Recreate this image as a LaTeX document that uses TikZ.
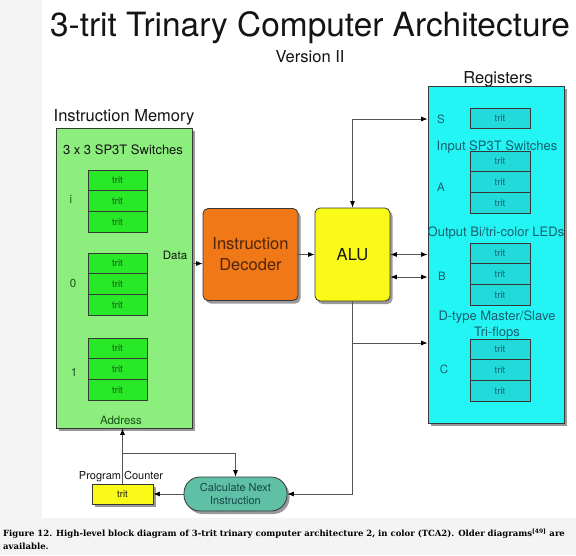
\documentclass[tikz,border=0pt]{standalone}
\usepackage{fontspec}
\setmainfont{TeX Gyre Heros}
\newfontfamily\capfont{DejaVu Serif}
\usetikzlibrary{arrows.meta,shadows}
\definecolor{bggray}{RGB}{244,244,244}
\definecolor{imgreen}{RGB}{140,238,125}
\definecolor{tritgreen}{RGB}{40,232,40}
\definecolor{darkgreen}{RGB}{25,85,25}
\definecolor{decorange}{RGB}{240,120,22}
\definecolor{decbrown}{RGB}{80,38,10}
\definecolor{aluyellow}{RGB}{250,250,25}
\definecolor{regcyan}{RGB}{35,245,245}
\definecolor{tritcyan}{RGB}{35,218,218}
\definecolor{tealtext}{RGB}{25,95,110}
\definecolor{cnifill}{RGB}{95,192,165}
\definecolor{cnitext}{RGB}{20,70,72}
\definecolor{linec}{RGB}{55,55,55}
\definecolor{arrowc}{RGB}{85,85,85}
\definecolor{titlec}{RGB}{20,20,20}
\newcommand\fsz[1]{\fontsize{#1}{#1}\selectfont}
\tikzset{
  box/.style={draw=linec, line width=0.8pt, inner sep=0pt},
  shadowed/.style={drop shadow={shadow xshift=2.5pt, shadow yshift=-3pt, opacity=0.4, fill=black}},
  tritg/.style={box, fill=tritgreen, minimum width=59pt, minimum height=20.67pt, font=\fsz{9.5}, text=darkgreen},
  tritc/.style={box, fill=tritcyan, minimum width=60pt, minimum height=20.67pt, font=\fsz{9.5}, text=tealtext},
  lbl/.style={inner sep=0pt, font=\fsz{16.5}, text=titlec},
  imtext/.style={inner sep=0pt, font=\fsz{11.5}, text=darkgreen},
  regtext/.style={inner sep=0pt, font=\fsz{13}, text=tealtext},
  reglbl/.style={inner sep=0pt, font=\fsz{11.5}, text=tealtext},
  tip/.style={Latex[length=6.5pt,width=5pt,color=black]},
  arr/.style={draw=arrowc, line width=0.8pt, -{Latex[length=6.5pt,width=5pt,color=black]}},
  arrtwo/.style={draw=arrowc, line width=0.8pt, {Latex[length=6.5pt,width=5pt,color=black]}-{Latex[length=6.5pt,width=5pt,color=black]}}
}
\begin{document}
\begin{tikzpicture}[x=1pt,y=-1pt]
\useasboundingbox (0,0) rectangle (576,555);
\fill[bggray] (0,0) rectangle (576,555);
\fill[white] (42,0) rectangle (576,518);

% titles
\node[inner sep=0pt, font=\fsz{33.4}, text=titlec, anchor=base] (title) at (310,36) {3-trit Trinary Computer Architecture};
\node[lbl, anchor=base] (version) at (310,62) {Version II};
\node[lbl, anchor=base] (regtitle) at (498,83) {Registers};
\node[lbl, anchor=base] (imtitle) at (124,121) {Instruction Memory};

% instruction memory
\node[box, shadowed, fill=imgreen, minimum width=136pt, minimum height=300pt] (im) at (124,278) {};
\node[inner sep=0pt, font=\fsz{13}, text=titlec] (sw) at (123,150) {3 x 3 SP3T Switches};
\node[tritg] (i1) at (117.5,180.3) {trit};
\node[tritg] (i2) at (117.5,201) {trit};
\node[tritg] (i3) at (117.5,221.7) {trit};
\node[tritg] (z1) at (117.5,263.3) {trit};
\node[tritg] (z2) at (117.5,284) {trit};
\node[tritg] (z3) at (117.5,304.7) {trit};
\node[tritg] (o1) at (117.5,348.3) {trit};
\node[tritg] (o2) at (117.5,369) {trit};
\node[tritg] (o3) at (117.5,389.7) {trit};
\node[imtext] (li) at (71,199) {i};
\node[imtext] (lz) at (73,284) {0};
\node[imtext] (lo) at (74,372) {1};
\node[imtext, text=titlec] (data) at (175,255) {Data};
\node[imtext] (addr) at (121,420) {Address};

% decoder and ALU
\node[box, shadowed, fill=decorange, rounded corners=5pt, minimum width=95pt, minimum height=92pt,
      align=center, font=\fontsize{16.5}{21}\selectfont, text=decbrown] (dec) at (250.5,254.5) {Instruction\\Decoder};
\node[box, shadowed, fill=aluyellow, rounded corners=5pt, minimum width=75pt, minimum height=93pt,
      font=\fsz{16.5}, text=titlec] (alu) at (352.5,254.5) {ALU};

% registers
\node[box, shadowed, fill=regcyan, minimum width=136pt, minimum height=337pt] (reg) at (496,254.5) {};
\node[tritc] (s1) at (500,118.5) {trit};
\node[tritc] (a1) at (500,161.3) {trit};
\node[tritc] (a2) at (500,182) {trit};
\node[tritc] (a3) at (500,202.7) {trit};
\node[tritc] (b1) at (500,253.3) {trit};
\node[tritc] (b2) at (500,274) {trit};
\node[tritc] (b3) at (500,294.7) {trit};
\node[tritc] (c1) at (500,349.3) {trit};
\node[tritc] (c2) at (500,370) {trit};
\node[tritc] (c3) at (500,390.7) {trit};
\node[reglbl] (ls) at (441,119) {S};
\node[reglbl] (la) at (441,187) {A};
\node[reglbl] (lb) at (442,276) {B};
\node[reglbl] (lc) at (444,369) {C};
\node[regtext] (inp) at (497,147) {Input SP3T Switches};
\node[regtext] (outp) at (496,233) {Output Bi/tri-color LEDs};
\node[regtext, align=center, font=\fontsize{13}{16}\selectfont] (dff) at (497,325) {D-type Master/Slave\\Tri-flops};

% program counter and next instruction
\node[inner sep=0pt, font=\fsz{11}, text=titlec] (pclbl) at (121,477) {Program Counter};
\node[box, shadowed, fill=aluyellow, minimum width=61pt, minimum height=20pt, font=\fsz{9.5}, text=titlec] (pc) at (122.5,494) {trit};
\node[box, shadowed, fill=cnifill, rounded corners=16pt, minimum width=103pt, minimum height=34pt,
      align=center, font=\fontsize{11}{13}\selectfont, text=cnitext] (cni) at (235.5,494) {Calculate Next\\Instruction};

% connectors
\coordinate (datay) at (0,263.5);
\coordinate (cy) at (0,343);
\coordinate (bry) at (0,453);
\coordinate (b2y) at (0,277);
\draw[arr] (im.east |- datay) -- (dec.west |- datay);
\draw[arr] (dec.east |- alu.west) -- (alu.west);
\draw[arrtwo] (alu.east) -- (alu.east -| reg.west);
\draw[arrtwo] (alu.east |- b2y) -- (reg.west |- b2y);
\draw[arrtwo] (alu.north) |- (reg.west |- ls);
\draw[arr] (alu.south) |- (cni.east);
\draw[arr] (alu.south |- cy) -- (reg.west |- cy);
\draw[arr] (cni.west) -- (pc.east);
\draw[arr] (pc.north) -- (pc.north |- im.south);
\draw[arr] (pc.north |- bry) -| (cni.north);

% caption
\node[inner sep=0pt, anchor=base west, font=\capfont\bfseries\fsz{8.5}, text=black] (cap1) at (3,536)
  {Figure 12. High-level block diagram of 3-trit trinary computer architecture 2, in color (TCA2). Older diagrams\textsuperscript{[49]} are};
\node[inner sep=0pt, anchor=base west, font=\capfont\bfseries\fsz{8.5}, text=black] (cap2) at (3,549) {available.};
\end{tikzpicture}
\end{document}
